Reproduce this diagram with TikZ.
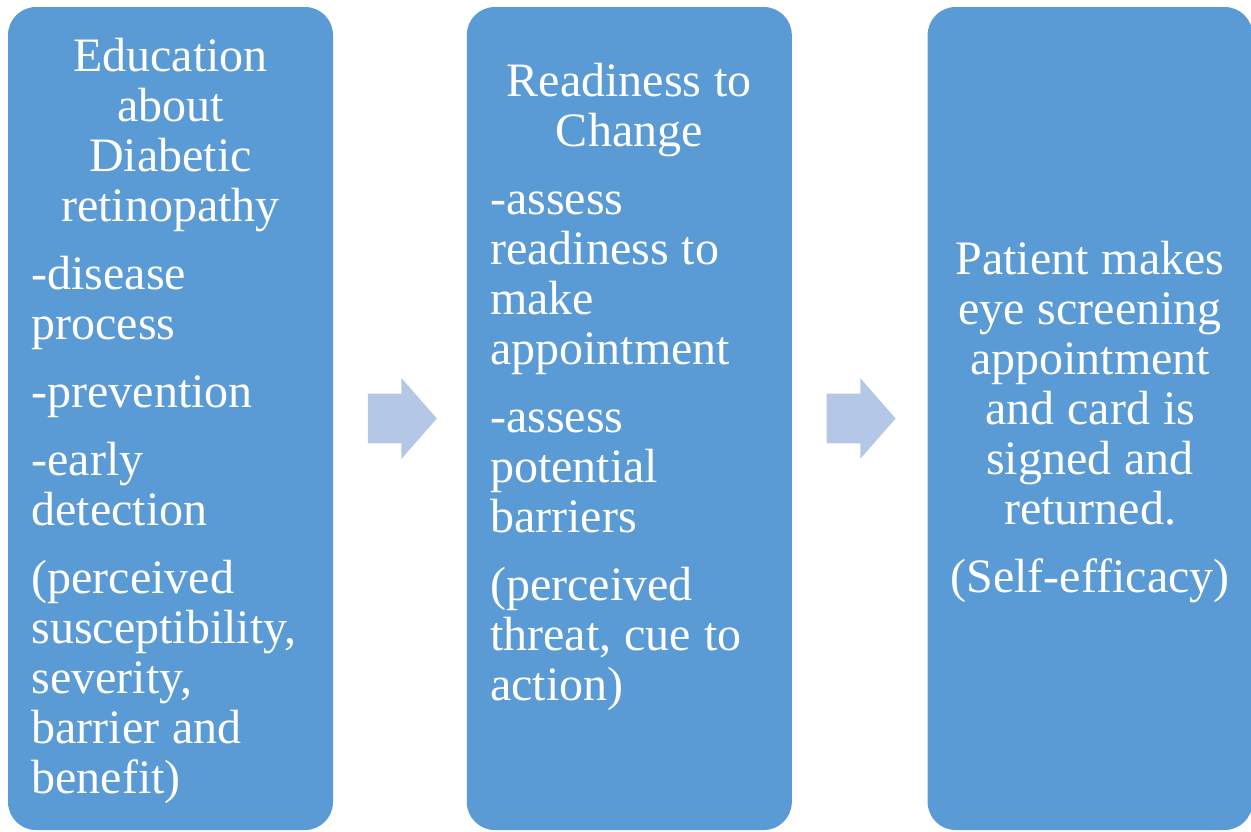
\documentclass[tikz,border=0pt]{standalone}
\usepackage{fontspec}
\setmainfont{Liberation Serif}
\usepackage{xcolor}
\usetikzlibrary{positioning,shapes.arrows}

\definecolor{stageblue}{HTML}{5B9BD5}
\definecolor{arrowblue}{HTML}{B4C7E7}

% paragraph gap and word spacing inside the stage texts
\newcommand\stagepar{\setlength\parskip{9pt}\spaceskip=6.5pt\relax}

\tikzset{
  stage/.style={fill=stageblue, rounded corners=14pt, inner sep=0pt,
    minimum width=162.5pt, minimum height=411.5pt},
  stagetext/.style={text=white, inner sep=0pt, text width=139pt,
    font=\fontsize{24}{25}\selectfont},
  nextarrow/.style={single arrow, fill=arrowblue, inner xsep=0pt, inner ysep=12.25pt,
    minimum height=34.5pt, minimum width=40pt,
    single arrow head extend=7.75pt, single arrow tip angle=97.6}
}

\begin{document}
\begin{tikzpicture}[x=0.5pt,y=-0.5pt]
        \useasboundingbox (0,0) rectangle (1251,831);

        % the three stages
        \node[stage] (edu) at (170.5,418.5) {};
        \node[stage, right=66.5pt of edu] (ready) {};
        \node[stage, right=67.5pt of ready] (screen) {};

        % arrows in the gaps
        \node[nextarrow, right=17pt of edu] (edu2ready) {};
        \node[nextarrow, right=17pt of ready] (ready2screen) {};

        \node[stagetext, below=32.5pt of edu.north, anchor=base] (edutext) {\stagepar
          {\centering Education\\ about\\ Diabetic\\ retinopathy\par}
          \raggedright
          -disease\\ process\par
          -prevention\par
          -early\\ detection\par
          (perceived\\ susceptibility,\\ severity,\\ barrier and\\ benefit)\par};

        \node[stagetext, below=45pt of ready.north, anchor=base] (readytext) {\stagepar
          {\centering Readiness to\\ Change\par}
          \raggedright
          -assess\\ readiness to\\ make\\ appointment\par
          -assess\\ potential\\ barriers\par
          (perceived\\ threat, cue to\\ action)\par};

        \node[stagetext, text width=152pt, below=134pt of screen.north, anchor=base] (screentext) {\stagepar
          \centering
          Patient makes\\ eye screening\\ appointment\\ and card is\\ signed and\\ returned.\par
          (Self-efficacy)\par};
\end{tikzpicture}
\end{document}
